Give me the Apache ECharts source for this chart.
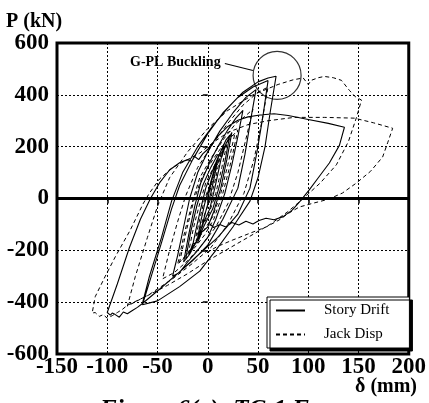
<!DOCTYPE html>
<html><head><meta charset="utf-8">
<script src="https://cdn.jsdelivr.net/npm/echarts@6/dist/echarts.min.js"></script>
<style>html,body{margin:0;padding:0;background:#fff;}#c{width:429px;height:403px;}</style>
</head><body><div id="c"></div>
<script>
// ---- axis settings ----
const xRange = {min: -150, max: 200, interval: 50};
const yRange = {min: -600, max: 600, interval: 200};
const seriesNames = ['Story Drift', 'Jack Disp'];

// ---- data: [delta (mm), P (kN)] ----
const storyDrift = [
 [0,0],[4,70],[8,130],[10,155],[7,90],[3,20],[-2,-50],[-6,-110],[-10,-150],[-7,-90],[-3,-20],
 [2,50],[7,120],[12,175],[16,205],[12,130],[7,40],[2,-40],[-5,-100],[-11,-165],[-16,-200],[-12,-125],[-7,-40],
 [-2,40],[5,110],[12,175],[18,225],[22,245],[17,140],[11,40],[5,-40],[-3,-100],[-11,-165],[-18,-215],[-22,-235],[-17,-130],[-11,-30],
 [-5,50],[3,120],[10,170],[14,160],[18,210],[24,255],[19,150],[13,40],[6,-50],[0,-110],[-6,-130],[-10,-170],[-15,-175],[-19,-220],[-24,-245],[-19,-140],[-13,-30],
 [-7,60],[2,140],[10,200],[20,265],[28,310],[35,340],[30,240],[24,130],[17,20],[8,-80],[0,-150],[-10,-200],[-20,-245],[-28,-285],[-35,-300],[-30,-220],[-24,-110],[-18,0],
 [-10,100],[0,180],[12,260],[25,330],[38,390],[48,420],[43,310],[37,170],[30,40],[15,-80],[0,-180],[-15,-240],[-30,-290],[-48,-350],[-65,-405],[-58,-300],[-46,-150],[-36,-10],
 [-25,100],[-10,200],[5,280],[20,350],[35,410],[50,450],[60,465],[68,472],[62,330],[57,200],[50,80],[42,-10],[25,-110],[8,-200],[-8,-280],[-28,-340],[-50,-395],[-65,-410],
 [-57,-310],[-46,-170],[-36,-40],[-28,50],[-15,150],[0,250],[15,330],[30,390],[45,430],[60,455],[55,320],[49,180],[42,40],[30,-60],[10,-150],[-10,-220],[-30,-290],[-48,-350],[-65,-405],
 [-70,-420],[-75,-432],[-80,-445],[-84,-438],[-88,-458],[-92,-448],[-95,-442],[-97,-450],[-100,-440],
 [-90,-330],[-78,-190],[-67,-80],[-57,0],[-48,60],[-38,110],[-28,138],[-20,150],[-16,144],[-13,162],[-9,150],[-5,172],[0,190],[10,240],[20,278],[30,302],[40,315],[52,322],[66,327],[80,320],[100,305],[120,290],[136,275],
 [131,205],[121,137],[110,80],[101,33],[92,-10],[84,-45],[75,-70],[66,-82],[58,-76],[51,-85],[45,-98],[38,-88],[31,-102],[24,-93],[18,-110],[12,-100],[6,-112],[2,-98]
];
const jackDisp = [
 [0,0],[5,70],[10,135],[12,155],[8,80],[3,0],[-3,-60],[-8,-120],[-12,-150],[-8,-80],[-3,0],
 [3,60],[9,130],[14,180],[19,210],[14,120],[8,20],[1,-60],[-7,-120],[-13,-175],[-19,-205],[-14,-110],[-8,-20],
 [-2,60],[7,130],[15,190],[22,235],[27,250],[20,130],[13,20],[5,-70],[-5,-130],[-14,-180],[-22,-225],[-28,-245],[-21,-120],[-14,-10],
 [-6,80],[5,150],[15,205],[22,230],[30,265],[23,140],[15,20],[6,-80],[-3,-140],[-13,-190],[-22,-220],[-30,-255],[-23,-130],[-15,-10],
 [-8,80],[4,160],[16,230],[28,290],[38,320],[45,345],[38,230],[30,100],[20,-20],[8,-110],[-6,-180],[-20,-240],[-33,-285],[-45,-310],[-38,-200],[-30,-90],[-22,10],
 [-10,120],[5,210],[20,290],[35,360],[50,410],[60,430],[54,300],[46,150],[36,20],[20,-100],[3,-190],[-15,-250],[-35,-310],[-58,-370],[-80,-415],[-72,-300],[-60,-150],[-50,-30],
 [-38,80],[-20,180],[0,270],[20,340],[45,400],[70,440],[85,458],[95,465],[100,440],[103,456],[110,466],[116,471],[125,466],[133,456],[141,417],[147,392],[153,380],
 [148,313],[140,220],[128,130],[112,60],[95,0],[80,-50],[62,-100],[40,-150],[20,-195],[0,-240],[-20,-290],[-40,-335],[-60,-375],[-80,-412],
 [-85,-428],[-90,-440],[-95,-452],[-100,-462],[-104,-448],[-108,-455],[-112,-440],[-115,-442],
 [-112,-379],[-102,-300],[-92,-225],[-77,-121],[-64,-18],[-58,21],[-48,75],[-35,120],[-20,150],[-8,175],[5,215],[20,255],[40,285],[60,300],[86,313],[116,313],[146,310],[165,292],[184,271],
 [179,215],[174,160],[162,105],[148,60],[134,21],[120,-3],[105,-18],[91,-33],[80,-58],[71,-83],[58,-110],[42,-134],[25,-160],[9,-186],[-1,-210]
];
// annotation: buckling circle centre and leader line ends
const bucklingPoint = [69, 475];
const leaderLine = [[17, 521], [45, 494]];

const FONT = '"Liberation Serif","Times New Roman",Times,serif';
const chart = echarts.init(document.getElementById('c'), null, {renderer: 'canvas'});
const dotted = {color: '#000', width: 1, type: [2, 2]};
const labelStyle = {fontFamily: FONT, fontWeight: 'bold', fontSize: 23, color: '#000'};

chart.setOption({
  animation: false,
  backgroundColor: '#fff',
  grid: {left: 57, top: 43, right: 19, bottom: 49, show: true, borderColor: '#000', borderWidth: 3, backgroundColor: 'transparent'},
  xAxis: [
    Object.assign({type: 'value', position: 'bottom', axisLine: {show: false}, axisTick: {show: false},
      axisLabel: Object.assign({margin: 2}, labelStyle), splitLine: {show: true, lineStyle: dotted}}, xRange),
    Object.assign({type: 'value', position: 'top', axisLine: {show: false},
      axisTick: {show: true, inside: true, length: 5, lineStyle: {color: '#000', width: 1.5}},
      axisLabel: {show: false}, splitLine: {show: false}}, xRange)
  ],
  yAxis: [
    Object.assign({type: 'value', position: 'left', axisLine: {show: false},
      axisTick: {show: true, inside: false, length: 5, lineStyle: {color: '#000', width: 1.5}},
      axisLabel: Object.assign({margin: 8}, labelStyle), splitLine: {show: true, lineStyle: dotted}}, yRange),
    Object.assign({type: 'value', position: 'right', axisLine: {show: false},
      axisTick: {show: true, inside: true, length: 5, lineStyle: {color: '#000', width: 1.5}},
      axisLabel: {show: false}, splitLine: {show: false}}, yRange)
  ],
  legend: {
    left: 267, top: 297, orient: 'vertical', itemWidth: 29, itemHeight: 12, itemGap: 9,
    padding: [6, 20, 6, 8], backgroundColor: '#fff', borderColor: '#000', borderWidth: 1,
    shadowColor: '#000', shadowBlur: 0, shadowOffsetX: 3, shadowOffsetY: 3,
    itemStyle: {opacity: 0},
    textStyle: {fontFamily: FONT, fontSize: 15, color: '#000', padding: [0, 0, 0, 14]},
    data: seriesNames
  },
  series: [
    {name: seriesNames[0], type: 'line', data: storyDrift, symbol: 'none', z: 3,
      lineStyle: {color: '#000', width: 1.1, type: 'solid'}, itemStyle: {color: '#000'},
      markLine: {silent: true, symbol: ['none', 'none'], label: {show: false},
        lineStyle: {color: '#000', width: 3, type: 'solid'}, data: [{yAxis: 0}]}},
    {name: seriesNames[1], type: 'line', data: jackDisp, symbol: 'none', z: 2,
      lineStyle: {color: '#000', width: 1, type: [4, 3]}, itemStyle: {color: '#000'}},
    {type: 'scatter', data: [bucklingPoint], symbol: 'circle', symbolSize: 48, silent: true, z: 4,
      itemStyle: {color: 'rgba(0,0,0,0)', borderColor: '#000', borderWidth: 1.2},
      markLine: {silent: true, symbol: ['none', 'none'], label: {show: false},
        lineStyle: {color: '#000', width: 1.2, type: 'solid'},
        data: [[{coord: leaderLine[0]}, {coord: leaderLine[1]}]]}}
  ],
  graphic: [
    {type: 'text', left: 6, top: 12, style: {text: 'P (kN)', font: 'bold 20px ' + FONT, fill: '#000'}},
    {type: 'text', left: 355, top: 377, style: {text: 'δ (mm)', font: 'bold 20px ' + FONT, fill: '#000'}},
    {type: 'text', left: 130, top: 55, z: 10, style: {text: 'G-PL Buckling', font: 'bold 14px ' + FONT, fill: '#000'}},
    {type: 'text', left: 100, top: 398, style: {text: 'Figure 6(a): TC-1 F', font: 'italic bold 25px ' + FONT, fill: '#000'}}
  ]
});
</script></body></html>
